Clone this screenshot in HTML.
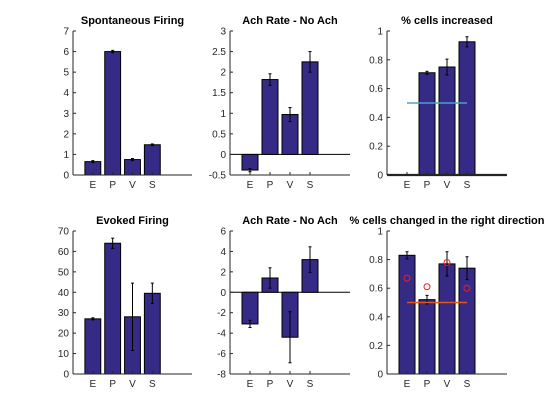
<!DOCTYPE html>
<html><head><meta charset="utf-8">
<style>
html,body{margin:0;padding:0;background:#fff;}
svg{display:block;font-family:"Liberation Sans",Arial,sans-serif;}
.tick{font-size:10px;fill:#262626;}
.title{font-size:11px;font-weight:bold;fill:#000;}
</style></head>
<body>
<svg id="fig" width="560" height="420" viewBox="0 0 560 420"></svg>
<script>
const categories = ["E","P","V","S"];
const spontValues = [0.65, 6.0, 0.75, 1.47];
const spontErr = [0.05, 0.06, 0.05, 0.04];
const spontTicks = [0,1,2,3,4,5,6,7];
const achTopValues = [-0.38, 1.82, 0.97, 2.25];
const achTopErr = [0.04, 0.14, 0.17, 0.25];
const achTopTicks = [-0.5,0,0.5,1,1.5,2,2.5,3];
const incValues = [0, 0.71, 0.75, 0.925];
const incErr = [0, 0.01, 0.055, 0.035];
const fracTicks = [0,0.2,0.4,0.6,0.8,1];
const evokedValues = [27, 64, 28, 39.5];
const evokedErr = [0.5, 2.5, 16.5, 5];
const evokedTicks = [0,10,20,30,40,50,60,70];
const achBotValues = [-3.1, 1.4, -4.4, 3.2];
const achBotErr = [0.35, 1.0, 2.5, 1.25];
const achBotTicks = [-8,-6,-4,-2,0,2,4,6];
const rightValues = [0.83, 0.52, 0.77, 0.74];
const rightErr = [0.025, 0.03, 0.085, 0.08];
const rightCircles = [0.67, 0.61, 0.78, 0.60];
const chanceLevel = 0.5;

const NS = "http://www.w3.org/2000/svg";
const svg = document.getElementById("fig");
function mk(tag, attrs, parent){const e=document.createElementNS(NS,tag);for(const k in attrs)e.setAttribute(k,attrs[k]);(parent||svg).appendChild(e);return e;}

function panel(o){
  const g = mk("g",{});
  
  
  const L=o.x0,R=o.x1,T=o.y0,B=o.y1;
  const ymin=o.ticks[0], ymax=o.ticks[o.ticks.length-1];
  const sx=v=>L+(v/6)*(R-L);
  const sy=v=>B-(v-ymin)/(ymax-ymin)*(B-T);
  const t=mk("text",{x:(L+R)/2,y:T-7,"text-anchor":"middle",class:"title"},g);
  t.textContent=o.title;
  
  
  // zero baseline
  if(ymin<0){
    const z=mk("line",{x1:L,x2:R,y1:sy(0),y2:sy(0),stroke:"#000","stroke-width":1},g);
    
    
  }
  o.values.forEach((v,i)=>{
    const c=sx(i+1), w=sx(0.8)-sx(0);
    const y1=sy(Math.max(v,0)), y2=sy(Math.min(v,0));
    if(Math.abs(y2-y1)>0.01){
      const b=mk("rect",{x:c-w/2,y:y1,width:w,height:y2-y1,fill:"#352a85",stroke:"#000","stroke-width":1},g);
      
      
    }
    const e=o.err[i];
    const eb=mk("line",{x1:c,x2:c,y1:sy(v-e),y2:sy(v+e),stroke:"#000","stroke-width":1},g);
    
    
    [v-e,v+e].forEach(q=>{mk("line",{x1:c-1.5,x2:c+1.5,y1:sy(q),y2:sy(q),stroke:"#000","stroke-width":1},g);});
  });
  if(o.thickBase){
    const tb=mk("line",{x1:L,x2:R,y1:B,y2:B,stroke:"#222","stroke-width":2.2},g);
    
    
  }
  if(o.refLine){
    const rl=mk("line",{x1:sx(1),x2:sx(4),y1:sy(chanceLevel),y2:sy(chanceLevel),stroke:o.refLine,"stroke-width":1.5},g);
    
    
  }
  if(o.circles){
    o.circles.forEach((v,i)=>{
      const ci=mk("circle",{cx:sx(i+1),cy:sy(v),r:3,fill:"none",stroke:"#ff1a1a","stroke-width":1},g);
      
      
    });
  }
  // axes
  const ya=mk("line",{x1:L,x2:L,y1:T,y2:B,stroke:"#262626","stroke-width":1},g);
  
  
  const xa=mk("line",{x1:L,x2:R,y1:B,y2:B,stroke:"#262626","stroke-width":1},g);
  
  
  o.ticks.forEach(v=>{
    const y=sy(v);
    mk("line",{x1:L,x2:L+3,y1:y,y2:y,stroke:"#262626","stroke-width":1},g);
    const tl=mk("text",{x:L-4,y:y+3.5,"text-anchor":"end",class:"tick"},g);
    tl.textContent=String(v);
    
    
  });
  categories.forEach((c,i)=>{
    const x=sx(i+1);
    mk("line",{x1:x,x2:x,y1:B,y2:B-3,stroke:"#262626","stroke-width":1},g);
    const tl=mk("text",{x:x,y:B+13,"text-anchor":"middle",class:"tick"},g);
    tl.textContent=c;
    
    
  });
}
const cols=[[73,192],[230,350],[387,507]];
const rows=[[31,175],[231,374]];
panel({name:"spontaneous-firing-chart",title:"Spontaneous Firing",x0:cols[0][0],x1:cols[0][1],y0:rows[0][0],y1:rows[0][1],values:spontValues,err:spontErr,ticks:spontTicks});
panel({name:"ach-rate-top-chart",title:"Ach Rate - No Ach",x0:cols[1][0],x1:cols[1][1],y0:rows[0][0],y1:rows[0][1],values:achTopValues,err:achTopErr,ticks:achTopTicks});
panel({name:"cells-increased-chart",title:"% cells increased",x0:cols[2][0],x1:cols[2][1],y0:rows[0][0],y1:rows[0][1],values:incValues,err:incErr,ticks:fracTicks,thickBase:true,refLine:"#4a9fd8"});
panel({name:"evoked-firing-chart",title:"Evoked Firing",x0:cols[0][0],x1:cols[0][1],y0:rows[1][0],y1:rows[1][1],values:evokedValues,err:evokedErr,ticks:evokedTicks});
panel({name:"ach-rate-bottom-chart",title:"Ach Rate - No Ach",x0:cols[1][0],x1:cols[1][1],y0:rows[1][0],y1:rows[1][1],values:achBotValues,err:achBotErr,ticks:achBotTicks});
panel({name:"cells-right-direction-chart",title:"% cells changed in the right direction",x0:cols[2][0],x1:cols[2][1],y0:rows[1][0],y1:rows[1][1],values:rightValues,err:rightErr,ticks:fracTicks,refLine:"#e8571a",circles:rightCircles});
</script>
</body></html>
